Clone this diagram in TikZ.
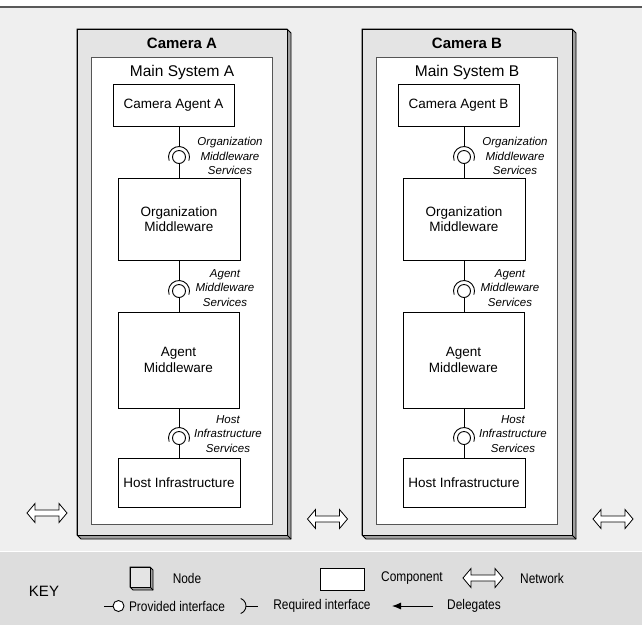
\documentclass[tikz,border=0pt]{standalone}
\usepackage{fontspec}
\setmainfont{Liberation Sans}
\newfontfamily\narrowfont[FakeStretch=0.85]{Liberation Sans}
\usetikzlibrary{arrows.meta}
\definecolor{bgc}{HTML}{EFEFEF}
\definecolor{keyc}{HTML}{DDDDDD}
\definecolor{facec}{HTML}{E4E4E4}
\definecolor{sidec}{HTML}{A0A0A0}
\definecolor{linec}{HTML}{555555}
\begin{document}
\begin{tikzpicture}[x=1pt,y=-1pt,
  comp/.style={draw=black, line width=0.9pt, fill=white, align=center, inner sep=0pt, font=\fontsize{13.5}{15.5}\selectfont},
  ball/.style={circle, draw=black, line width=0.9pt, fill=white, minimum size=13pt, inner sep=0pt},
  iflabel/.style={align=center, inner sep=0pt, font=\fontsize{11.5}{14.5}\selectfont\itshape},
  conn/.style={line width=0.9pt},
  keytext/.style={inner sep=0pt, font=\narrowfont\fontsize{14}{16}\selectfont},
  netarrow/.pic={\draw[fill=white, line width=0.8pt] (-20,0) -- (-12,-9.5) -- (-12,-3) -- (12,-3) -- (12,-9.5) -- (20,0) -- (12,9.5) -- (12,3) -- (-12,3) -- (-12,9.5) -- cycle;}
]
\useasboundingbox (0,0) rectangle (642,625);
\fill[white] (0,0) rectangle (642,7);
\fill[bgc] (0,7) rectangle (642,551);
\draw[line width=1.2pt, black!65] (0,7) -- (642,7);
\fill[keyc] (0,551) rectangle (642,625);
\draw[white, line width=1pt] (0,551) -- (642,551);

\foreach \dx/\L in {0/A,285/B}{
  % 3D node
  \draw[fill=sidec, line width=0.8pt] (77+\dx,29) -- (287+\dx,29) -- (291+\dx,33) -- (291+\dx,539) -- (81+\dx,539) -- (77+\dx,535) -- cycle;
  \draw[fill=facec, line width=0.8pt] (77+\dx,29) rectangle (287+\dx,535);
  \draw[line width=0.8pt] (287+\dx,535) -- (291+\dx,539);
  \node[anchor=base, inner sep=0pt, font=\bfseries\fontsize{15}{18}\selectfont] (camtitle\L) at (182+\dx,48) {Camera \L};
  \node[draw=linec, line width=0.9pt, fill=white, minimum width=181pt, minimum height=467pt, anchor=north west, inner sep=0pt] (main\L) at (91+\dx,57) {};
  \node[anchor=base, inner sep=0pt, font=\fontsize{15.5}{18}\selectfont] (maintitle\L) at (182+\dx,76) {Main System \L};
  % components
  \node[comp, minimum width=121pt, minimum height=42pt] (camagent\L) at (173.5+\dx,105) {Camera Agent \L};
  \node[comp, minimum width=122pt, minimum height=82pt] (orgmw\L) at (179+\dx,219) {Organization\\Middleware};
  \node[comp, minimum width=121pt, minimum height=96pt] (agentmw\L) at (178.5+\dx,360) {Agent\\Middleware};
  \node[comp, minimum width=122pt, minimum height=49pt] (host\L) at (179+\dx,482.5) {Host Infrastructure};
  % interfaces
  \node[ball] (ifa\L) at (179+\dx,157) {};
  \node[ball] (ifb\L) at (179+\dx,291) {};
  \node[ball] (ifc\L) at (179+\dx,438) {};
  \coordinate (sa\L) at (179+\dx,146.5);
  \coordinate (sb\L) at (179+\dx,280.5);
  \coordinate (sc\L) at (179+\dx,427.5);
  \draw[conn] (camagent\L.south -| sa\L) -- (sa\L);
  \draw[conn] (ifa\L) -- (orgmw\L.north -| ifa\L);
  \draw[conn] (orgmw\L.south -| sb\L) -- (sb\L);
  \draw[conn] (ifb\L) -- (agentmw\L.north -| ifb\L);
  \draw[conn] (agentmw\L.south -| sc\L) -- (sc\L);
  \draw[conn] (ifc\L) -- (host\L.north -| ifc\L);
  \draw[conn] (ifa\L.center) ++(160:10.5) arc[start angle=160, end angle=380, radius=10.5];
  \draw[conn] (ifb\L.center) ++(160:10.5) arc[start angle=160, end angle=380, radius=10.5];
  \draw[conn] (ifc\L.center) ++(160:10.5) arc[start angle=160, end angle=380, radius=10.5];
  \node[iflabel] (la\L) at (230+\dx,156) {Organization\\Middleware\\Services};
  \node[iflabel] (lb\L) at (225+\dx,288) {Agent\\Middleware\\Services};
  \node[iflabel] (lc\L) at (228+\dx,434) {Host\\Infrastructure\\Services};
}

% network arrows
\pic at (47,513) {netarrow};
\pic at (327.5,519) {netarrow};
\pic at (613,519) {netarrow};

% key
\node[inner sep=0pt, font=\fontsize{15}{18}\selectfont] (keylbl) at (44,591) {KEY};
\draw[fill=sidec, line width=0.8pt] (130,567) -- (150,567) -- (153,570) -- (153,590) -- (133,590) -- (130,587) -- cycle;
\draw[fill=facec, line width=0.8pt] (130,567) rectangle (150,587);
\draw[line width=0.8pt] (150,587) -- (153,590);
\node[keytext] (knode) at (187,578) {Node};
\node[draw=black, line width=0.9pt, fill=white, minimum width=44pt, minimum height=22pt, inner sep=0pt] (kcomp) at (342,579) {};
\node[keytext] (kcompl) at (412,578) {Component};
\pic at (483,578) {netarrow};
\node[keytext] (knet) at (542,578) {Network};

\node[ball, minimum size=11pt] (kprov) at (118.5,606) {};
\coordinate (kprovl) at (104,606);
\draw[conn] (kprovl) -- (kprov);
\node[keytext] (kprovt) at (177,606) {Provided interface};
\coordinate (kreqa) at (238,606);
\coordinate (kreqb) at (246,606);
\coordinate (kreqc) at (258,606);
\draw[conn] (kreqa) ++(-70:8) arc[start angle=-70, end angle=70, radius=8];
\draw[conn] (kreqb) -- (kreqc);
\node[keytext] (kreqt) at (322,606) {Required interface};
\coordinate (kdr) at (433,606);
\coordinate (kdl) at (392,606);
\draw[conn, -{Latex[length=9pt,width=7pt]}] (kdr) -- (kdl);
\node[keytext] (kdel) at (474,606) {Delegates};
\end{tikzpicture}
\end{document}
